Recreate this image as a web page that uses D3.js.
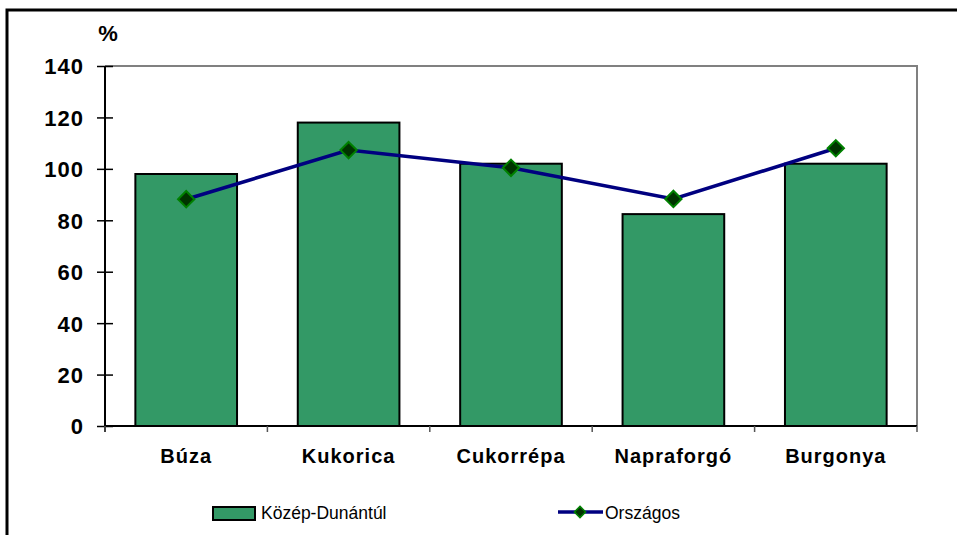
<html>
<head>
	<meta charset="utf-8">
	<title>Közép-Dunántúl</title>
	<script src="https://d3js.org/d3.v7.min.js"></script>
	<style>
	body { margin: 0; background: #fff; }
	text { font-family: "Liberation Sans", Arial, sans-serif; }
	.axis text { font-size: 22px; font-weight: bold; fill: #000; letter-spacing: 1px; }
	.cat { font-size: 20px; font-weight: bold; letter-spacing: 1px; }
	.legend text { font-size: 17.5px; }
	</style>
</head>
<body>
	<div id="chart"></div>

	<script>
		// data
		var categories = ["Búza", "Kukorica", "Cukorrépa", "Napraforgó", "Burgonya"];
		var regionValues = [98, 118, 102, 82.4, 102];     // Közép-Dunántúl
		var countryValues = [88.2, 107.3, 100.4, 88.3, 108]; // Országos
		var yTicks = [0, 20, 40, 60, 80, 100, 120, 140];
		var seriesNames = ["Közép-Dunántúl", "Országos"];

		var svg = d3.select("#chart")
			.append("svg")
			.attr("width", 957)
			.attr("height", 535),
		    margin = {top: 66, left: 105},
		    width = 812,
		    height = 360;

		// outer frame
		svg.append("rect")
		    .attr("x", 7).attr("y", 10)
		    .attr("width", 1000).attr("height", 600)
		    .attr("fill", "none")
		    .attr("stroke", "#000")
		    .attr("stroke-width", 3);

		var x = d3.scaleBand().domain(categories).range([0, width]),
		    y = d3.scaleLinear().domain([0, 140]).range([height, 0]);

		var g = svg.append("g")
		    .attr("transform", "translate(" + margin.left + "," + margin.top + ")");

		// plot area border (top and right, gray)
		g.append("path")
		    .attr("d", "M0,0H" + width + "V" + height)
		    .attr("fill", "none")
		    .attr("stroke", "#808080")
		    .attr("stroke-width", 2);

		var barW = x.bandwidth() * 0.626;

		g.selectAll(".bar")
		  .data(regionValues)
		  .enter().append("rect")
		    .attr("class", "bar")
		    .attr("x", function(d, i) { return x(categories[i]) + (x.bandwidth() - barW) / 2; })
		    .attr("y", function(d) { return y(d); })
		    .attr("width", barW)
		    .attr("height", function(d) { return height - y(d); })
		    .attr("fill", "#339966")
		    .attr("stroke", "#000")
		    .attr("stroke-width", 2);

		// y axis, ticks crossing the line
		var yAxis = g.append("g")
		    .attr("class", "axis")
		    .call(d3.axisLeft(y).tickValues(yTicks).tickSize(8).tickPadding(13));
		yAxis.select(".domain").remove();
		yAxis.selectAll(".tick line").attr("x1", 8).attr("stroke", "#000").attr("stroke-width", 1.5);
		yAxis.selectAll(".tick text").attr("dy", "0.36em");
		g.append("line")
		    .attr("x1", 0).attr("x2", 0)
		    .attr("y1", 0).attr("y2", height + 6)
		    .attr("stroke", "#000").attr("stroke-width", 2);

		// x axis, ticks on category boundaries
		g.append("line")
		    .attr("x1", 0).attr("x2", width)
		    .attr("y1", height).attr("y2", height)
		    .attr("stroke", "#000").attr("stroke-width", 2);
		var bounds = categories.map(function(c) { return x(c); }).concat([width]);
		g.selectAll(".xtick")
		  .data(bounds)
		  .enter().append("line")
		    .attr("x1", function(d) { return d; })
		    .attr("x2", function(d) { return d; })
		    .attr("y1", height).attr("y2", height + 6)
		    .attr("stroke", "#555").attr("stroke-width", 1.5);

		g.selectAll(".cat")
		  .data(categories)
		  .enter().append("text")
		    .attr("class", "cat")
		    .attr("x", function(d) { return x(d) + x.bandwidth() / 2; })
		    .attr("y", height + 37)
		    .attr("text-anchor", "middle")
		    .text(function(d) { return d; });

		// unit label
		svg.append("text")
		    .attr("x", 108).attr("y", 41)
		    .attr("text-anchor", "middle")
		    .style("font-size", "22px")
		    .style("font-weight", "bold")
		    .text("%");

		// line series
		var line = d3.line()
		    .x(function(d, i) { return x(categories[i]) + x.bandwidth() / 2; })
		    .y(function(d) { return y(d); });

		g.append("path")
		    .datum(countryValues)
		    .attr("d", line)
		    .attr("fill", "none")
		    .attr("stroke", "#000080")
		    .attr("stroke-width", 3.5);

		var diamond = d3.symbol().type(d3.symbolDiamond2);

		g.selectAll(".pt")
		  .data(countryValues)
		  .enter().append("path")
		    .attr("class", "pt")
		    .attr("transform", function(d, i) {
		    	return "translate(" + (x(categories[i]) + x.bandwidth() / 2) + "," + y(d) + ")";
		    })
		    .attr("d", diamond.size(170))
		    .attr("fill", "#003300")
		    .attr("stroke", "#008000")
		    .attr("stroke-width", 2);

		// legend
		var lg = svg.append("g").attr("class", "legend");
		lg.append("rect")
		    .attr("x", 213).attr("y", 507)
		    .attr("width", 42).attr("height", 13)
		    .attr("fill", "#339966")
		    .attr("stroke", "#000")
		    .attr("stroke-width", 2);
		lg.append("text")
		    .attr("x", 261).attr("y", 519)
		    .text(seriesNames[0]);

		lg.append("line")
		    .attr("x1", 558).attr("x2", 603)
		    .attr("y1", 512).attr("y2", 512)
		    .attr("stroke", "#000080")
		    .attr("stroke-width", 3.5);
		lg.append("path")
		    .attr("transform", "translate(580,512)")
		    .attr("d", diamond.size(80))
		    .attr("fill", "#003300")
		    .attr("stroke", "#008000")
		    .attr("stroke-width", 1.5);
		lg.append("text")
		    .attr("x", 605).attr("y", 519)
		    .text(seriesNames[1]);
	</script>
</body>
</html>
